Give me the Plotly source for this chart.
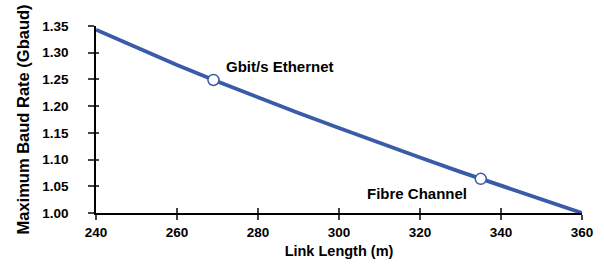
import plotly.graph_objects as go

# Data
link_length = [240, 250, 260, 270, 280, 290, 300, 310, 320, 330, 340, 350, 360]
baud_rate = [1.343, 1.310, 1.277, 1.246, 1.216, 1.187, 1.159, 1.131, 1.104, 1.077, 1.051, 1.025, 1.000]

point_names = ["Gbit/s Ethernet", "Fibre Channel"]
point_x = [269, 335]
point_y = [1.249, 1.064]

x_ticks = [240, 260, 280, 300, 320, 340, 360]
y_ticks = [1.00, 1.05, 1.10, 1.15, 1.20, 1.25, 1.30, 1.35]

BLUE = "#3a5ba9"
FONT = "Liberation Sans, Arial, sans-serif"

fig = go.Figure()
fig.add_trace(go.Scatter(x=link_length, y=baud_rate, mode="lines",
                         line=dict(color=BLUE, width=3.8), cliponaxis=False,
                         showlegend=False, hoverinfo="skip"))
fig.add_trace(go.Scatter(x=point_x, y=point_y, mode="markers",
                         marker=dict(size=11, color="white", line=dict(color=BLUE, width=1.5)),
                         cliponaxis=False, showlegend=False))

fig.add_annotation(x=point_x[0], y=point_y[0], text=point_names[0], showarrow=False,
                   xanchor="left", yanchor="bottom", xshift=11, yshift=3,
                   font=dict(size=15, color="black", family=FONT, weight="bold"))
fig.add_annotation(x=point_x[1], y=point_y[1], text=point_names[1], showarrow=False,
                   xanchor="right", yanchor="top", xshift=-12, yshift=-4,
                   font=dict(size=15, color="black", family=FONT, weight="bold"))

tickfont = dict(size=13.5, color="black", family=FONT, weight="bold")

fig.update_layout(
    width=604, height=275,
    margin=dict(l=96, r=22, t=26, b=62),
    paper_bgcolor="white", plot_bgcolor="white",
    font=dict(family=FONT, color="black"),
    xaxis=dict(range=[240, 360], tickvals=x_ticks, ticktext=[str(v) for v in x_ticks],
               showgrid=False, zeroline=False, showline=True, linecolor="black", linewidth=1.5,
               ticks="outside", ticklen=5, tickwidth=1.5, tickcolor="#444",
               tickfont=tickfont, ticklabelstandoff=1,
               title=dict(text="Link Length (m)", standoff=7,
                          font=dict(size=14.5, color="black", family=FONT, weight="bold"))),
    yaxis=dict(range=[1.0, 1.35], tickvals=y_ticks, ticktext=[f"{v:.2f}" for v in y_ticks],
               showgrid=False, zeroline=False, showline=True, linecolor="black", linewidth=1.5,
               ticks="outside", ticklen=6, tickwidth=1.5, tickcolor="#444",
               tickfont=tickfont, ticklabelstandoff=17,
               title=dict(text="Maximum Baud Rate (Gbaud)", standoff=8,
                          font=dict(size=16.5, color="black", family=FONT, weight="bold"))),
    xaxis2=dict(range=[240, 360], tickvals=x_ticks, overlaying="x",
                showticklabels=False, showgrid=False, zeroline=False, showline=False,
                ticks="inside", ticklen=5, tickwidth=1.5, tickcolor="#444"),
    yaxis2=dict(range=[1.0, 1.35], tickvals=y_ticks, overlaying="y",
                showticklabels=False, showgrid=False, zeroline=False, showline=False,
                ticks="inside", ticklen=3, tickwidth=1.5, tickcolor="#444"),
)
fig.add_trace(go.Scatter(x=[240], y=[1.0], xaxis="x2", yaxis="y2", mode="markers",
                         marker=dict(opacity=0), showlegend=False, hoverinfo="skip"))

fig.write_html("out.html", config={"displayModeBar": False},
               post_script="document.body.style.margin='0';")
